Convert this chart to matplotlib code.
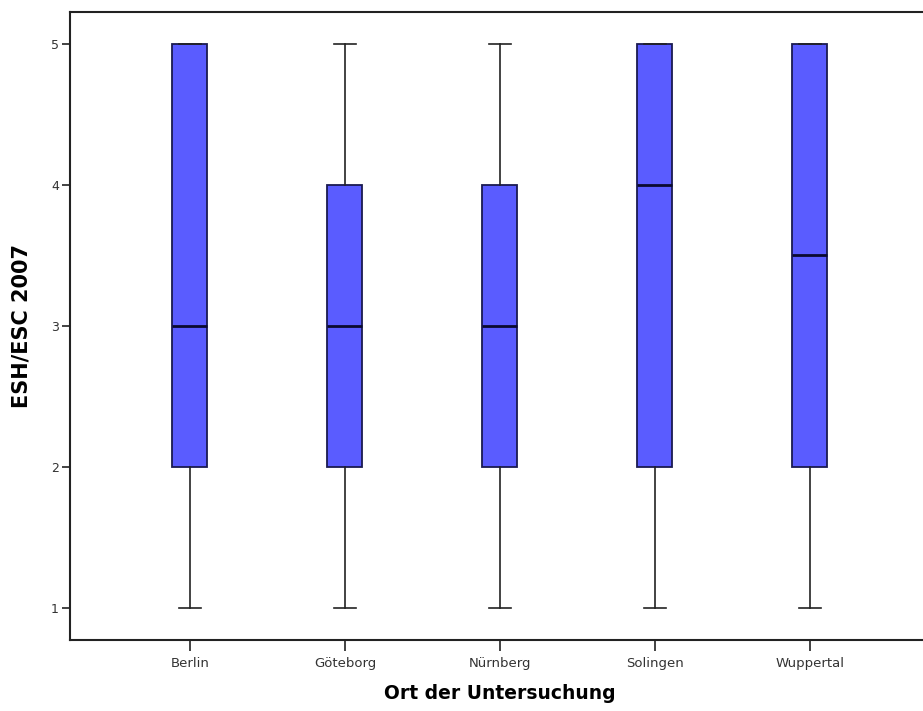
import matplotlib
matplotlib.use("Agg")
import matplotlib.pyplot as plt

plt.rcParams['font.family'] = ['DejaVu Sans']

orte = ["Berlin", "Göteborg", "Nürnberg", "Solingen", "Wuppertal"]
minimum = [1, 1, 1, 1, 1]
q1 = [2, 2, 2, 2, 2]
median = [3, 3, 3, 4, 3.5]
q3 = [5, 4, 4, 5, 5]
maximum = [5, 5, 5, 5, 5]

stats = []
for i, ort in enumerate(orte):
    stats.append({
        "label": ort,
        "whislo": minimum[i],
        "q1": q1[i],
        "med": median[i],
        "q3": q3[i],
        "whishi": maximum[i],
        "fliers": [],
    })

fig = plt.figure(figsize=(9.23, 7.11), dpi=100)
ax = fig.add_axes([0.0758, 0.0999, 0.9317, 0.8833])

ax.bxp(
    stats,
    positions=range(1, len(orte) + 1),
    widths=0.226,
    patch_artist=True,
    boxprops=dict(facecolor="#5a5cff", edgecolor="#1a1a50", linewidth=1.3),
    medianprops=dict(color="#0a0a30", linewidth=2.0),
    whiskerprops=dict(color="#222222", linewidth=1.2),
    capprops=dict(color="#222222", linewidth=1.2),
    capwidths=0.14,
)

ax.set_xlim(0.226, 5.774)
ax.set_ylim(0.773, 5.227)
ax.set_yticks([1, 2, 3, 4, 5])
ax.set_yticklabels(["1", "2", "3", "4", "5"])

for side in ["left", "bottom", "top"]:
    ax.spines[side].set_linewidth(1.5)
    ax.spines[side].set_color("#222222")
ax.spines["right"].set_visible(False)

ax.tick_params(axis="y", length=6, width=1.2, labelsize=9, colors="#222222",
               labelcolor="#333333", pad=2)
ax.tick_params(axis="x", length=8, width=1.2, labelsize=9.5, colors="#222222",
               labelcolor="#333333", pad=4)

ax.set_xlabel("Ort der Untersuchung", fontsize=13.5, fontweight="bold", labelpad=10)
ax.set_ylabel("ESH/ESC 2007", fontsize=15, fontweight="bold", labelpad=14)

fig.savefig("out.png", dpi=100)
